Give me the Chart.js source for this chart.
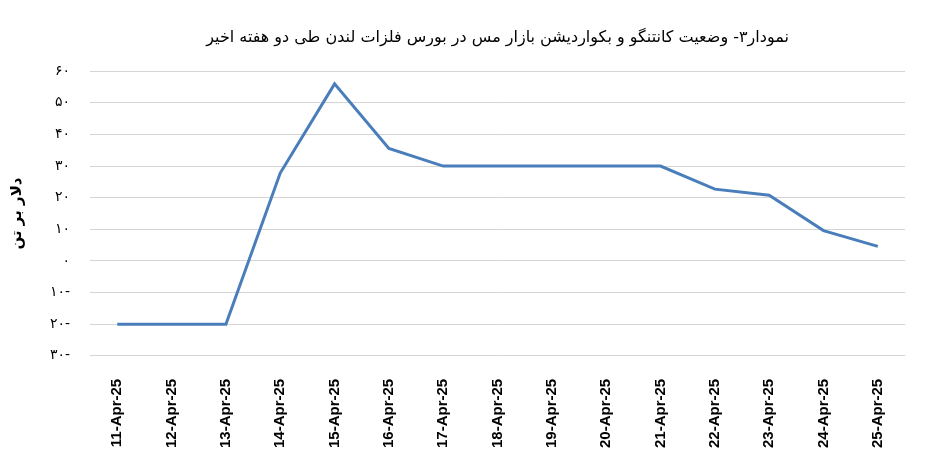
<!DOCTYPE html>
<html>
<head>
<meta charset="utf-8">
<script src="https://cdn.jsdelivr.net/npm/chart.js@4"></script>
<style>
  body { margin: 0; background: #fff; }
  #wrap { width: 945px; height: 474px; }
</style>
</head>
<body>
<div id="wrap"><canvas id="chart" width="945" height="474"></canvas></div>
<script>
const labels = ['11-Apr-25', '12-Apr-25', '13-Apr-25', '14-Apr-25', '15-Apr-25', '16-Apr-25', '17-Apr-25',
  '18-Apr-25', '19-Apr-25', '20-Apr-25', '21-Apr-25', '22-Apr-25', '23-Apr-25', '24-Apr-25', '25-Apr-25'];
const spread = [-20, -20, -20, 27.8, 56, 35.6, 30, 30, 30, 30, 30, 22.7, 20.8, 9.6, 4.6];
const yTicks = [60, 50, 40, 30, 20, 10, 0, -10, -20, -30];

// persian digits for the y axis
const faDigits = '۰۱۲۳۴۵۶۷۸۹';
function toFa(v) {
  const s = String(Math.abs(v)).replace(/\d/g, d => faDigits[d]);
  return v < 0 ? s + '-' : s;
}

const ctx = document.getElementById('chart');
new Chart(ctx, {
  type: 'line',
  data: {
    labels: labels,
    datasets: [{
      data: spread,
      borderColor: '#4a7ebb',
      borderWidth: 3,
      pointRadius: 0,
      tension: 0,
      fill: false
    }]
  },
  options: {
    responsive: false,
    animation: false,
    layout: { padding: { left: 8, right: 40, top: 28, bottom: 11 } },
    plugins: {
      legend: { display: false },
      tooltip: { enabled: false },
      title: {
        display: true,
        fullSize: false,
        text: 'نمودار۳- وضعیت کانتنگو و بکواردیشن بازار مس در بورس فلزات لندن طی دو هفته اخیر',
        color: '#000',
        font: { family: 'DejaVu Sans', size: 16, weight: 'normal' },
        padding: { top: 0, bottom: 24 }
      }
    },
    scales: {
      x: {
        offset: true,
        grid: { display: false },
        border: { display: false },
        ticks: {
          color: '#000',
          maxRotation: 90,
          minRotation: 90,
          padding: 15,
          font: { family: 'Liberation Sans', size: 15, weight: 'bold' }
        }
      },
      y: {
        min: -30,
        max: 60,
        afterBuildTicks: axis => { axis.ticks = yTicks.map(v => ({ value: v })); },
        grid: { color: '#d4d4d4', lineWidth: 1, drawTicks: false },
        border: { display: false },
        ticks: {
          color: '#000',
          padding: 20,
          font: { family: 'DejaVu Sans', size: 14 },
          callback: v => toFa(v)
        },
        title: {
          display: true,
          text: 'دلار بر تن',
          color: '#000',
          font: { family: 'DejaVu Sans', size: 15, weight: 'bold' },
          padding: { top: 0, bottom: 4 }
        }
      }
    }
  }
});
</script>
</body>
</html>
